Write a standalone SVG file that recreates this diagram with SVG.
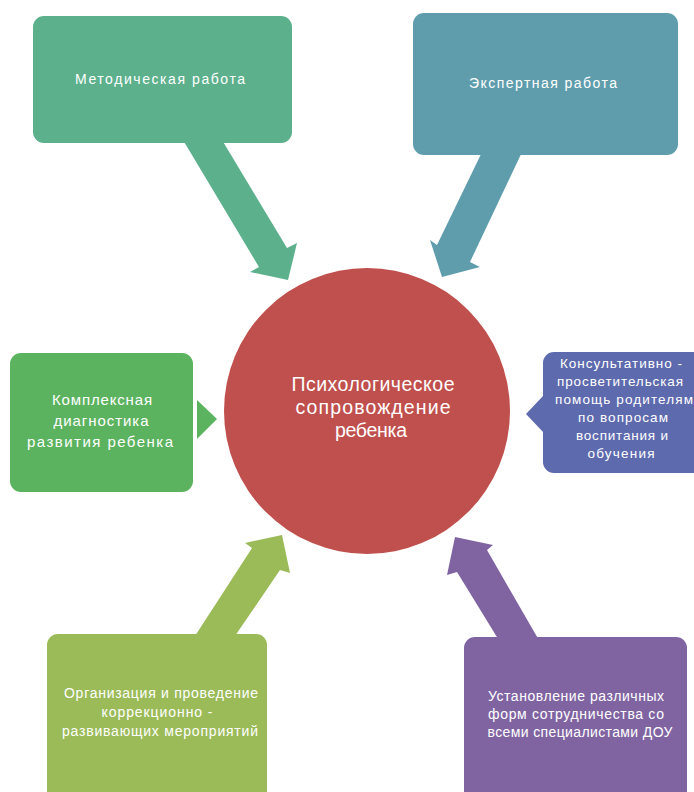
<svg xmlns="http://www.w3.org/2000/svg" width="694" height="792" viewBox="0 0 694 792">
<style>
.t{font-family:"Liberation Sans","DejaVu Sans",sans-serif;fill:#ffffff;text-anchor:middle}
.s13{font-size:14px}
.s14{font-size:15px}
.s12{font-size:13.5px}
.c{font-size:19.5px}
</style>
<rect x="0" y="0" width="694" height="792" fill="#ffffff"/>
<g id="connectors">
<polygon fill="#5CB08C" points="183,140 222,140 287,248 297,243 288,280 250,272 259,267"/>
<polygon fill="#5F9DAD" points="483,150 523,150 470,262 480,267 442,277 430,240 437,245"/>
<polygon fill="#9BBB59" points="195,636 235,636 280,570 290,573 282,535 245,543 252,548"/>
<polygon fill="#8064A2" points="540,642 500,642 457,572 447,575 455,537 493,545 487,550"/>
<polygon fill="#5CB35F" points="197,400 217,419 197,439"/>
<polygon fill="#5E6AAE" points="526,414 543,396 543,432"/>
</g>
<g id="center">
<circle cx="367" cy="411" r="143" fill="#C0504D"/>
<text class="t c" x="373" y="391" textLength="163">Психологическое</text>
<text class="t c" x="373" y="414" textLength="155">сопровождение</text>
<text class="t c" x="371" y="437" textLength="72">ребенка</text>
</g>
<g id="node-metod">
<rect x="33" y="16" width="259" height="127" rx="11" fill="#5CB08C"/>
<text class="t s13" x="160" y="84" textLength="170">Методическая  работа</text>
</g>
<g id="node-expert">
<rect x="413" y="13" width="265" height="142" rx="11" fill="#5F9DAD"/>
<text class="t s13" x="543" y="88" textLength="148">Экспертная  работа</text>
</g>
<g id="node-diag">
<rect x="10" y="353" width="183" height="139" rx="11" fill="#5CB35F"/>
<text class="t s14" x="102" y="405" textLength="100">Комплексная</text>
<text class="t s14" x="101" y="426" textLength="95">диагностика</text>
<text class="t s14" x="100" y="447" textLength="146">развития  ребенка</text>
</g>
<g id="node-consult">
<rect x="543" y="352" width="162" height="121" rx="11" fill="#5E6AAE"/>
<text class="t s12" x="621" y="368" textLength="122">Консультативно -</text>
<text class="t s12" x="620" y="386" textLength="126">просветительская</text>
<text class="t s12" x="624" y="404" textLength="138">помощь родителям</text>
<text class="t s12" x="623" y="422" textLength="90">по вопросам</text>
<text class="t s12" x="622" y="440" textLength="92">воспитания и</text>
<text class="t s12" x="621" y="458" textLength="67">обучения</text>
</g>
<g id="node-correct">
<rect x="47" y="634" width="220" height="170" rx="11" fill="#9BBB59"/>
<text class="t s13" x="161" y="698" textLength="194">Организация и проведение</text>
<text class="t s13" x="157" y="717" textLength="111">коррекционно -</text>
<text class="t s13" x="160" y="736" textLength="196">развивающих мероприятий</text>
</g>
<g id="node-coop">
<rect x="464" y="637" width="223" height="170" rx="11" fill="#8064A2"/>
<text class="t s13" x="576" y="701" textLength="176">Установление различных</text>
<text class="t s13" x="576" y="719" textLength="176">форм сотрудничества со</text>
<text class="t s13" x="580" y="737" textLength="185">всеми специалистами ДОУ</text>
</g>
</svg>
